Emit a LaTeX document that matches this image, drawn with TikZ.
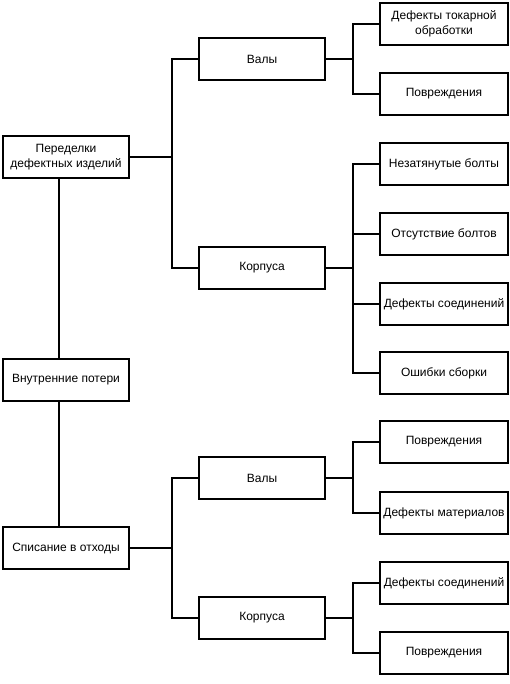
\documentclass[tikz,border=0pt]{standalone}
\usepackage{fontspec}
\setmainfont{Liberation Sans}
\usetikzlibrary{positioning, calc}

\begin{document}
\begin{tikzpicture}[
      x=1pt, y=-1pt,
      box/.style={rectangle, draw, line width=1.6pt, align=center, minimum width=126pt, minimum height=42pt, inner sep=1pt, font=\fontsize{12}{15}\selectfont},
      leaf/.style={box, minimum width=128pt},
      line/.style={line width=1.6pt}
    ]
    \useasboundingbox (0,0) rectangle (510,684);

    % left column
    \node[box] (rework) at (66,157) {Переделки\\дефектных изделий};
    \node[box] (loss) at (66,380) {Внутренние потери};
    \node[box] (scrap) at (66,548) {Списание в отходы};
    \coordinate (trunk) at (59,0);

    % middle column
    \node[box] (shaftA) at (262,59) {Валы};
    \node[box] (bodyA) at (262,268) {Корпуса};
    \node[box] (shaftB) at (262,478) {Валы};
    \node[box] (bodyB) at (262,618) {Корпуса};

    % right column
    \node[leaf] (turn) at (444,24) {Дефекты токарной\\обработки};
    \node[leaf] (dmgA) at (444,94) {Повреждения};
    \node[leaf] (bolt) at (444,164) {Незатянутые болты};
    \node[leaf] (nobolt) at (444,234) {Отсутствие болтов};
    \node[leaf] (jointA) at (444,304) {Дефекты соединений};
    \node[leaf] (assy) at (444,373) {Ошибки сборки};
    \node[leaf] (dmgB) at (444,442) {Повреждения};
    \node[leaf] (matl) at (444,513) {Дефекты материалов};
    \node[leaf] (jointB) at (444,583) {Дефекты соединений};
    \node[leaf] (dmgC) at (444,653) {Повреждения};

    \draw[line] (rework.south -| trunk) -- (loss.north -| trunk);
    \draw[line] (loss.south -| trunk) -- (scrap.north -| trunk);

    \draw[line] (rework.east) -- ++(42,0) coordinate (jA);
    \draw[line] (jA) |- (shaftA.west);
    \draw[line] (jA) |- (bodyA.west);
    \draw[line] (scrap.east) -- ++(42,0) coordinate (jB);
    \draw[line] (jB) |- (shaftB.west);
    \draw[line] (jB) |- (bodyB.west);

    \draw[line] (shaftA.east) -- ++(27,0) coordinate (kA);
    \draw[line] (kA) |- (turn.west);
    \draw[line] (kA) |- (dmgA.west);
    \draw[line] (bodyA.east) -- ++(27,0) coordinate (kB);
    \foreach \n in {bolt, nobolt, jointA, assy}
      \draw[line] (kB) |- (\n.west);
    \draw[line] (shaftB.east) -- ++(27,0) coordinate (kC);
    \draw[line] (kC) |- (dmgB.west);
    \draw[line] (kC) |- (matl.west);
    \draw[line] (bodyB.east) -- ++(27,0) coordinate (kD);
    \draw[line] (kD) |- (jointB.west);
    \draw[line] (kD) |- (dmgC.west);
  \end{tikzpicture}
\end{document}
